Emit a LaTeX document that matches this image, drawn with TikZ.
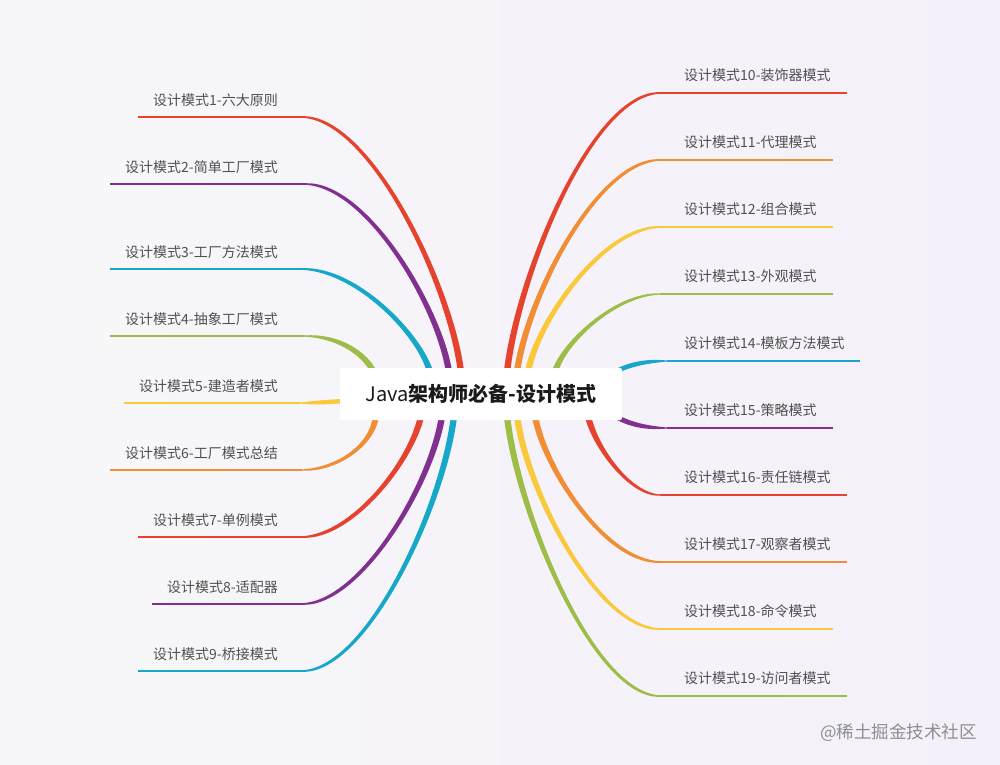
\documentclass[tikz,border=0pt]{standalone}
\usepackage{fontspec}
\newfontfamily\cjk{Noto Sans CJK SC}
\usetikzlibrary{calc}
\definecolor{bgL}{HTML}{F7F7F9}
\definecolor{bgR}{HTML}{F4F0F9}
\definecolor{cred}{HTML}{E6432F}
\definecolor{cpur}{HTML}{82308F}
\definecolor{ccya}{HTML}{17A8C9}
\definecolor{cgre}{HTML}{9EBD48}
\definecolor{cyel}{HTML}{F9C83B}
\definecolor{cora}{HTML}{F08D35}
\definecolor{lblgray}{HTML}{505050}
\definecolor{titleblack}{HTML}{1A1A1A}
\definecolor{wmgray}{HTML}{8E8E8E}
% #1 colour, #2 id, #3 start, #4 ctrl1, #5 ctrl2, #6 end of curve, #7 end of twig, #8 start half-width vector, #9 end half-width vector
\newcommand\branch[9]{%
  \coordinate (s#2) at #3;
  \coordinate (e#2) at #6;
  \coordinate (t#2) at #7;
  \fill[#1] ($(s#2)+#8$) .. controls ($#4+#8$) and ($#5+4.5*#9$) .. ($(e#2)+#9$)
     -- ($(e#2)-#9$) .. controls ($#5-4.5*#9$) and ($#4-#8$) .. ($(s#2)-#8$) -- cycle;
  \draw[twig,#1] (e#2) -- (t#2);
}
\begin{document}
\begin{tikzpicture}[x=1pt,y=-1pt,
  twig/.style={line width=1.6pt},
  lbl/.style={font=\cjk\fontsize{14}{16}\selectfont, text=lblgray, inner sep=0pt},
  rootbox/.style={fill=white, rounded corners=2pt, minimum width=282pt, minimum height=52pt, inner sep=0pt,
     font=\cjk\fontsize{20}{23}\selectfont, text=titleblack}]
\useasboundingbox (0,0) rectangle (1000,764);
\shade[left color=bgL, right color=bgR] (0,0) rectangle (1000,764);

% left side
\branch{cpur}{2}{(449,372)}{(439,307)}{(367,184)}{(305,184)}{(110,184)}{(-3.2,0)}{(0,0.8)}
\branch{cred}{1}{(461,372)}{(450,283)}{(370,117)}{(302,117)}{(138,117)}{(-3.2,0)}{(0,0.8)}
\branch{ccya}{3}{(430,372)}{(421,337)}{(358,269)}{(302,269)}{(110,269)}{(-3.2,0)}{(0,0.8)}
\branch{cgre}{4}{(374,372)}{(362,350)}{(335,336)}{(305,336)}{(110,336)}{(-2.1,2.1)}{(0,0.6)}
\branch{cyel}{5}{(345,401)}{(325,402)}{(315,403)}{(300,403)}{(124,403)}{(0,2.2)}{(0,0.5)}
\branch{cora}{6}{(376,416)}{(372,447)}{(335,470)}{(302,470)}{(110,470)}{(3,0)}{(0,0.6)}
\branch{cred}{7}{(421,416)}{(412,460)}{(353,537)}{(302,537)}{(138,537)}{(3.2,0)}{(0,0.8)}
\branch{cpur}{8}{(442,416)}{(432,483)}{(361,604)}{(302,604)}{(152,604)}{(3.2,0)}{(0,0.8)}
\branch{ccya}{9}{(454,416)}{(443,507)}{(367,671)}{(302,671)}{(138,671)}{(3.2,0)}{(0,0.8)}

% right side
\branch{cred}{10}{(507,372)}{(518,275)}{(592,93)}{(660,93)}{(847,93)}{(-3.2,0)}{(0,-0.8)}
\branch{cora}{11}{(517,372)}{(527,298)}{(597,160)}{(660,160)}{(833,160)}{(-3.2,0)}{(0,-0.8)}
\branch{cyel}{12}{(528,372)}{(537,322)}{(603,227)}{(660,227)}{(833,227)}{(-3.2,0)}{(0,-0.8)}
\branch{cgre}{13}{(555,372)}{(562,345)}{(614,294)}{(660,294)}{(833,294)}{(-3.2,0)}{(0,-0.6)}
\branch{ccya}{14}{(615,372)}{(632,363)}{(650,361)}{(667,361)}{(860,361)}{(0,-2.5)}{(0,-0.5)}
\branch{cpur}{15}{(615,416)}{(632,426)}{(650,428)}{(667,428)}{(833,428)}{(0.7,-2.4)}{(0,-0.5)}
\branch{cred}{16}{(588,416)}{(594,445)}{(629,495)}{(660,495)}{(847,495)}{(3.2,0)}{(0,-0.6)}
\branch{cora}{17}{(535,416)}{(544,468)}{(605,562)}{(660,562)}{(847,562)}{(3.2,0)}{(0,-0.8)}
\branch{cyel}{18}{(517,416)}{(527,492)}{(598,629)}{(660,629)}{(833,629)}{(3.2,0)}{(0,-0.8)}
\branch{cgre}{19}{(507,416)}{(518,515)}{(594,696)}{(660,696)}{(847,696)}{(3.2,0)}{(0,-0.8)}

% root
\node[rootbox] (root) at (481,394) {Java\bfseries 架构师必备-设计模式};

% labels left
\node[lbl, anchor=base east] (l1) at (278,105) {设计模式1-六大原则};
\node[lbl, anchor=base east] (l2) at (278,172) {设计模式2-简单工厂模式};
\node[lbl, anchor=base east] (l3) at (278,257) {设计模式3-工厂方法模式};
\node[lbl, anchor=base east] (l4) at (278,324) {设计模式4-抽象工厂模式};
\node[lbl, anchor=base east] (l5) at (278,391) {设计模式5-建造者模式};
\node[lbl, anchor=base east] (l6) at (278,458) {设计模式6-工厂模式总结};
\node[lbl, anchor=base east] (l7) at (278,525) {设计模式7-单例模式};
\node[lbl, anchor=base east] (l8) at (278,592) {设计模式8-适配器};
\node[lbl, anchor=base east] (l9) at (278,659) {设计模式9-桥接模式};
% labels right
\node[lbl, anchor=base west] (l10) at (684,80) {设计模式10-装饰器模式};
\node[lbl, anchor=base west] (l11) at (684,147) {设计模式11-代理模式};
\node[lbl, anchor=base west] (l12) at (684,214) {设计模式12-组合模式};
\node[lbl, anchor=base west] (l13) at (684,281) {设计模式13-外观模式};
\node[lbl, anchor=base west] (l14) at (684,348) {设计模式14-模板方法模式};
\node[lbl, anchor=base west] (l15) at (684,415) {设计模式15-策略模式};
\node[lbl, anchor=base west] (l16) at (684,482) {设计模式16-责任链模式};
\node[lbl, anchor=base west] (l17) at (684,549) {设计模式17-观察者模式};
\node[lbl, anchor=base west] (l18) at (684,616) {设计模式18-命令模式};
\node[lbl, anchor=base west] (l19) at (684,683) {设计模式19-访问者模式};

% watermark
\node[font=\cjk\fontsize{17.5}{20}\selectfont, text=wmgray, inner sep=0pt, anchor=east] (wm) at (977,733) {@稀土掘金技术社区};
\end{tikzpicture}
\end{document}
